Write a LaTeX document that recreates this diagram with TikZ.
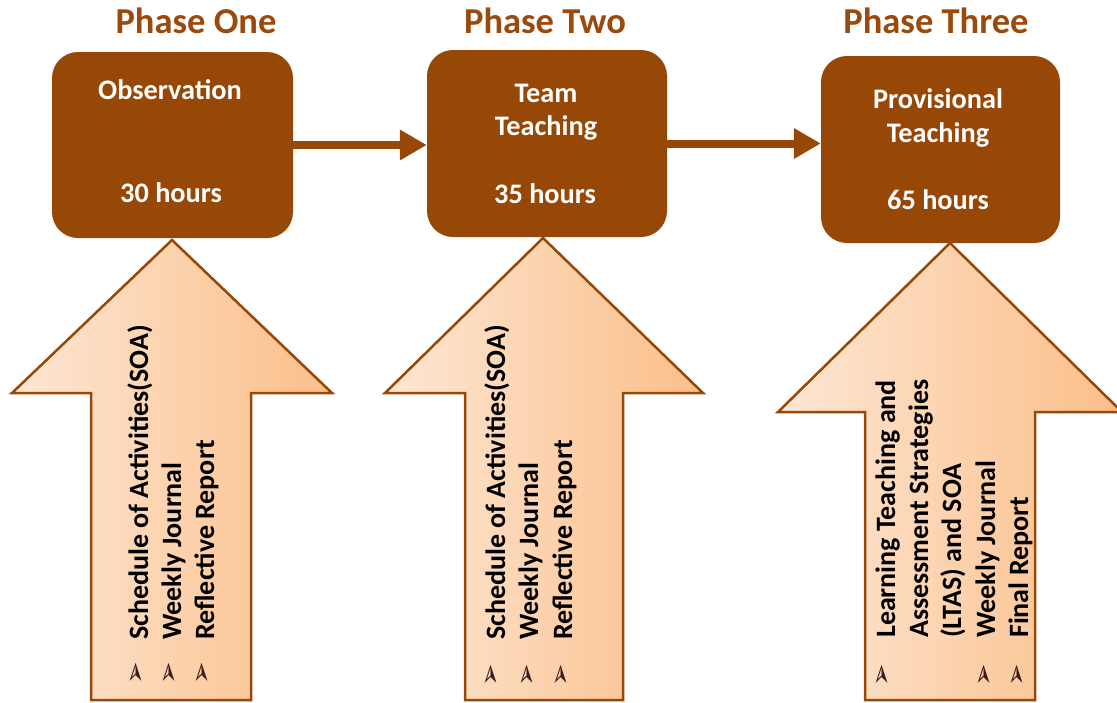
\documentclass[tikz,border=0pt]{standalone}
\usepackage{fontspec}
\setmainfont{Carlito}
\newfontfamily\symfont{DejaVu Sans}
\usetikzlibrary{arrows.meta}
\definecolor{brownbox}{HTML}{974706}
\definecolor{phasetitle}{HTML}{9A4A0C}
\definecolor{peachL}{HTML}{FDE7D4}
\definecolor{peachR}{HTML}{FBBE88}
\definecolor{bulletdark}{HTML}{3A1C1C}
\begin{document}
\begin{tikzpicture}[x=1pt,y=-1pt,
  phasebox/.style={draw=none, fill=brownbox, rounded corners=26pt, inner sep=0pt},
  phasetitle/.style={font=\fontsize{36.5}{42}\selectfont\bfseries, text=phasetitle, anchor=base, inner sep=0pt},
  boxtext/.style={font=\fontsize{28.3}{33}\selectfont\bfseries, text=white, anchor=base, inner sep=0pt},
  blockarrow/.style={draw=brownbox, line width=2.5pt, line join=miter, left color=peachL, right color=peachR},
  itemtext/.style={font=\fontsize{28}{33}\selectfont\bfseries, text=black, rotate=90, anchor=base west, inner sep=0pt},
  itembullet/.style={font=\symfont\fontsize{27}{27}\selectfont, text=bulletdark, rotate=90, inner sep=0pt},
  flow/.style={draw=brownbox, line width=8pt, -{Triangle[length=27pt,width=29pt]}}
]
\useasboundingbox (0,0) rectangle (1117,702);

% phase titles
\node[phasetitle] (t1) at (196,33) {Phase One};
\node[phasetitle] (t2) at (545,33) {Phase Two};
\node[phasetitle] (t3) at (936,33) {Phase Three};

% block arrows carrying the deliverables
\draw[blockarrow] (172,240) -- (332,393) -- (251,393) -- (251,700) -- (91,700) -- (91,393) -- (12,393) -- cycle;
\draw[blockarrow] (543,238) -- (703,393) -- (623,393) -- (623,700) -- (465,700) -- (465,393) -- (385,393) -- cycle;
\draw[blockarrow] (950,243) -- (1122,412) -- (1035,412) -- (1035,700) -- (865,700) -- (865,412) -- (778,412) -- cycle;

% phase boxes
\node[phasebox, minimum width=241pt, minimum height=186pt] (obs) at (172.5,145) {};
\node[phasebox, minimum width=240pt, minimum height=187pt] (team) at (547,143.5) {};
\node[phasebox, minimum width=239pt, minimum height=187pt] (prov) at (940.5,149.5) {};

% box labels
\node[boxtext] (obsA) at (170,99) {Observation};
\node[boxtext] (obsB) at (171,202) {30 hours};
\node[boxtext] (teamA) at (546,102) {Team};
\node[boxtext] (teamB) at (546,135) {Teaching};
\node[boxtext] (teamC) at (545,203) {35 hours};
\node[boxtext] (provA) at (938,108) {Provisional};
\node[boxtext] (provB) at (938,142) {Teaching};
\node[boxtext] (provC) at (938,209) {65 hours};

% flow between phases
\draw[flow] (obs.east) -- (obs.east -| team.west);
\draw[flow] (team.east) -- (team.east -| prov.west);

% phase one deliverables
\node[itembullet] (b11) at (137,673) {➢};
\node[itembullet] (b12) at (170,673) {➢};
\node[itembullet] (b13) at (203,673) {➢};
\node[itemtext] (i11) at (148,640) {Schedule of Activities(SOA)};
\node[itemtext] (i12) at (181,640) {Weekly Journal};
\node[itemtext] (i13) at (214,640) {Reflective Report};

% phase two deliverables
\node[itembullet] (b21) at (492,675) {➢};
\node[itembullet] (b22) at (528,675) {➢};
\node[itembullet] (b23) at (562,675) {➢};
\node[itemtext] (i21) at (505,640) {Schedule of Activities(SOA)};
\node[itemtext] (i22) at (538,640) {Weekly Journal};
\node[itemtext] (i23) at (572,640) {Reflective Report};

% phase three deliverables
\node[itembullet] (b31) at (883,675) {➢};
\node[itembullet] (b32) at (985,675) {➢};
\node[itembullet] (b33) at (1018,675) {➢};
\node[itemtext] (i31) at (895,638) {Learning Teaching and};
\node[itemtext] (i32) at (928,638) {Assessment Strategies};
\node[itemtext] (i33) at (961,638) {(LTAS) and SOA};
\node[itemtext] (i34) at (995,638) {Weekly Journal};
\node[itemtext] (i35) at (1028,638) {Final Report};
\end{tikzpicture}
\end{document}
